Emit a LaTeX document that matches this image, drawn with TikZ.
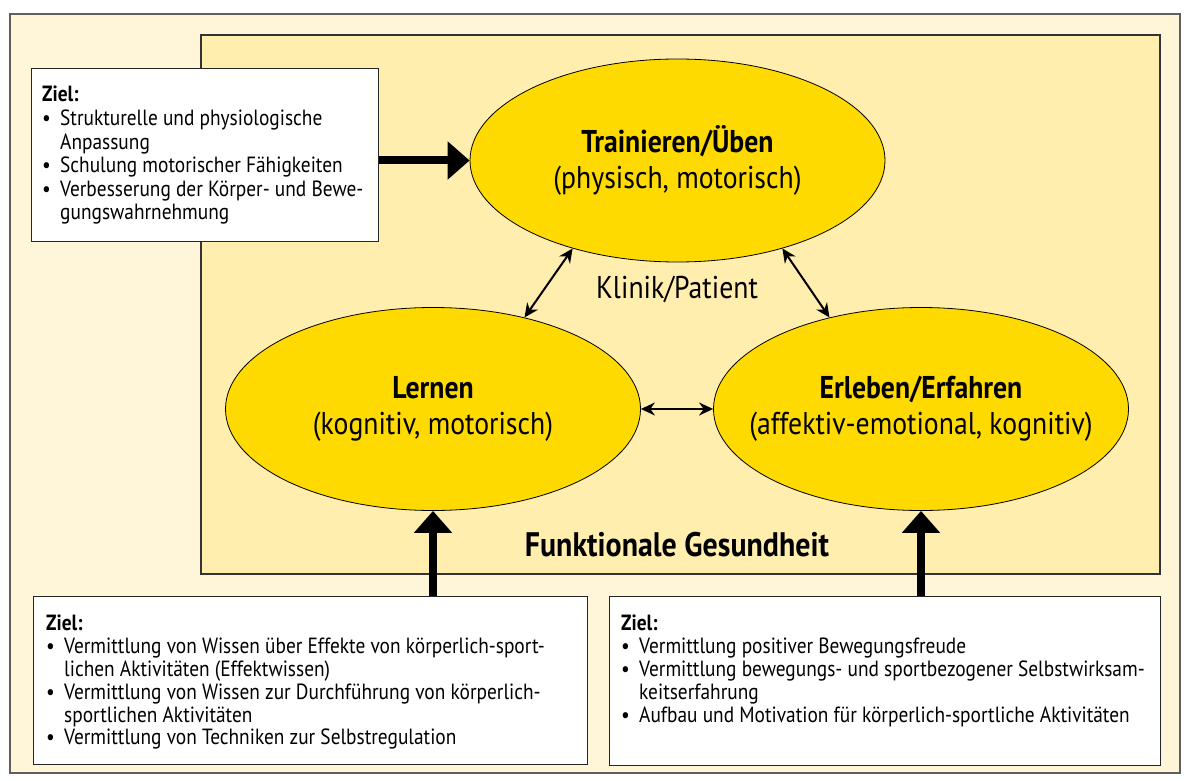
\documentclass[tikz,border=0pt]{standalone}
\usepackage{fontspec}
\setmainfont[FakeStretch=0.88]{PT Sans}
\usetikzlibrary{shapes.geometric,arrows.meta,positioning}
\definecolor{cream}{RGB}{255,245,216}
\definecolor{pale}{RGB}{255,238,174}
\definecolor{gold}{RGB}{255,218,0}
\definecolor{frameline}{RGB}{95,95,95}
\newcommand{\bul}{\makebox[18pt][l]{\textbullet}}
\newcommand{\ind}{\hspace*{18pt}}
\begin{document}
\begin{tikzpicture}[x=1pt, y=-1pt,
    ellip/.style={ellipse, draw, fill=gold, line width=0.8pt, minimum width=415, minimum height=203, inner sep=0},
    etext/.style={align=center, font=\fontsize{31.5}{36}\selectfont},
    zielbox/.style={draw=black!85, fill=white, line width=0.9pt, anchor=north west, inner sep=0},
    zieltext/.style={anchor=north west, align=left, inner sep=0, font=\fontsize{22}{#1}\selectfont},
    big/.style={line width=8pt, -{Triangle[length=22pt,width=37pt]}},
    dbl/.style={line width=2pt, {Stealth[length=14pt,width=13pt]}-{Stealth[length=14pt,width=13pt]}}]
  \useasboundingbox (0,0) rectangle (1184,781);
  \draw[frameline, fill=cream, line width=1.5pt] (10,14) rectangle (1180,773);
  \draw[black!80, fill=pale, line width=1.2pt] (201,35) rectangle (1160,574);

  \node[ellip] (train) at (677.5,160.5) {};
  \node[ellip] (lern)  at (433,409) {};
  \node[ellip] (erl)   at (921,409) {};
  \node[etext] (trainT) at (train) {\textbf{Trainieren/Üben}\\(physisch, motorisch)};
  \node[etext] (lernT)  at (lern)  {\textbf{Lernen}\\(kognitiv, motorisch)};
  \node[etext] (erlT)   at (erl)   {\textbf{Erleben/Erfahren}\\(affektiv-emotional, kognitiv)};
  \node[etext] (klinik) at (677,289) {Klinik/Patient};
  \node[etext, font=\bfseries\fontsize{34}{38}\selectfont] (fg) at (677,545) {Funktionale Gesundheit};

  \node[zielbox, minimum width=347, minimum height=173] (zt) at (31,68) {};
  \node[zieltext=23.6] (ztT) at ([shift={(11,18)}]zt.north west) {\textbf{Ziel:}\\
    \bul Strukturelle und physiologische\\
    \ind Anpassung\\
    \bul Schulung motorischer Fähigkeiten\\
    \bul Verbesserung der Körper- und Bewe-\\
    \ind gungswahrnehmung};
  \node[zielbox, minimum width=554, minimum height=168] (zl) at (33,596) {};
  \node[zieltext=22.8] (zlT) at ([shift={(13,19)}]zl.north west) {\textbf{Ziel:}\\
    \bul Vermittlung von Wissen über Effekte von körperlich-sport-\\
    \ind lichen Aktivitäten (Effektwissen)\\
    \bul Vermittlung von Wissen zur Durchführung von körperlich-\\
    \ind sportlichen Aktivitäten\\
    \bul Vermittlung von Techniken zur Selbstregulation};
  \node[zielbox, minimum width=551, minimum height=169] (ze) at (609,596) {};
  \node[zieltext=22.8] (zeT) at ([shift={(12,19)}]ze.north west) {\textbf{Ziel:}\\
    \bul Vermittlung positiver Bewegungsfreude\\
    \bul Vermittlung bewegungs- und sportbezogener Selbstwirksam-\\
    \ind keitserfahrung\\
    \bul Aufbau und Motivation für körperlich-sportliche Aktivitäten};

  \draw[big] (zt.east |- train.west) -- (train.west);
  \draw[big] (zl.north -| lern.south) -- (lern.south);
  \draw[big] (ze.north -| erl.south) -- (erl.south);
  \draw[dbl] (train.-140) -- (lern.45);
  \draw[dbl] (train.-40) -- (erl.135);
  \draw[dbl] (lern.east) -- (erl.west);
\end{tikzpicture}
\end{document}
